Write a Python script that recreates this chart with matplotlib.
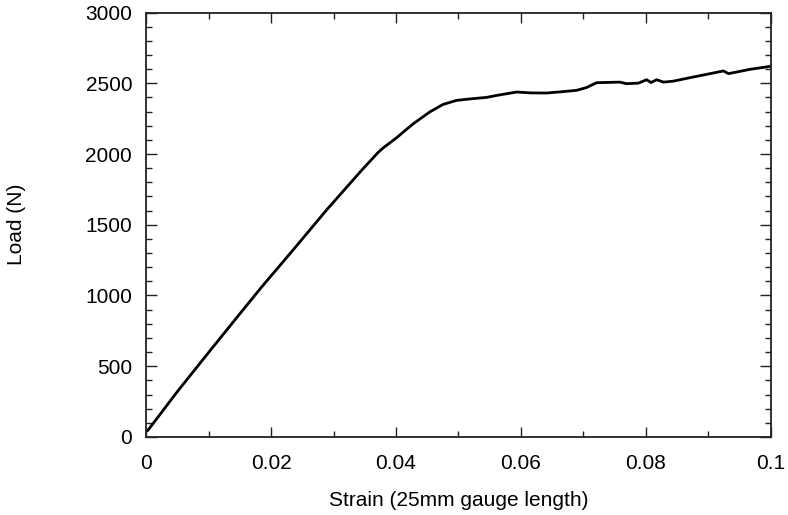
import matplotlib
matplotlib.use("Agg")
import matplotlib.pyplot as plt
from matplotlib.ticker import MultipleLocator

# load-strain curve
strain = [0.0, 0.0003, 0.005, 0.0101, 0.015, 0.0185, 0.0235, 0.0289, 0.0316,
          0.0345, 0.0372, 0.038, 0.0401, 0.0417, 0.0428, 0.0454, 0.0475, 0.0497,
          0.052, 0.0545, 0.0561, 0.0593, 0.0615, 0.0641, 0.0665, 0.0689, 0.0705,
          0.0721, 0.0758, 0.0769, 0.0788, 0.0801, 0.0808, 0.0817, 0.0828, 0.0844,
          0.087, 0.0897, 0.0924, 0.0932, 0.0966, 0.0998, 0.1]
load = [40, 47, 320, 602, 870, 1060, 1320, 1605, 1740,
        1885, 2014, 2045, 2115, 2175, 2215, 2297, 2350, 2379,
        2390, 2400, 2414, 2438, 2432, 2431, 2440, 2450, 2470,
        2504, 2508, 2497, 2501, 2525, 2505, 2525, 2508, 2515,
        2539, 2563, 2587, 2568, 2598, 2619, 2622]

x_ticks = [0, 0.02, 0.04, 0.06, 0.08, 0.1]
x_tick_labels = ["0", "0.02", "0.04", "0.06", "0.08", "0.1"]
y_ticks = [0, 500, 1000, 1500, 2000, 2500, 3000]

plt.rcParams['font.family'] = ['Liberation Sans', 'DejaVu Sans']

fig = plt.figure(figsize=(7.88, 5.15), dpi=100)
ax = fig.add_axes([0.1853, 0.1515, 0.7931, 0.8242])
ax.plot(strain, load, color='black', linewidth=2.0)

ax.set_xlim(0, 0.1)
ax.set_ylim(0, 3000)
ax.set_xticks(x_ticks)
ax.set_xticklabels(x_tick_labels)
ax.set_yticks(y_ticks)
ax.xaxis.set_minor_locator(MultipleLocator(0.01))
ax.yaxis.set_minor_locator(MultipleLocator(100))

ax.tick_params(which='both', direction='in', top=True, right=True,
               labelsize=15, color='#222222')
ax.tick_params(axis='y', which='major', length=8, width=1.0, pad=10)
ax.tick_params(axis='x', which='major', length=7.5, width=1.0, pad=12)
ax.tick_params(which='minor', length=4, width=1.0)
for sp in ax.spines.values():
    sp.set_linewidth(1.3)
    sp.set_color('#222222')

ax.set_xlabel('Strain (25mm gauge length)', fontsize=15, labelpad=13)
ax.set_ylabel('Load (N)', fontsize=15, labelpad=43)

fig.savefig('out.png', dpi=100)
